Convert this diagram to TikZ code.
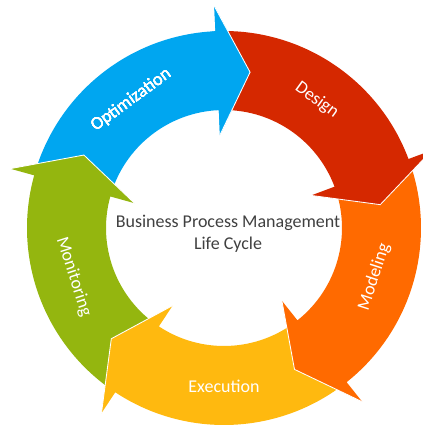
\documentclass[tikz,border=0pt]{standalone}
\usepackage{fontspec}
\setmainfont{Carlito}
\usepackage{tikz}
\usetikzlibrary{positioning}
\definecolor{optblue}{RGB}{0,166,240}
\definecolor{desred}{RGB}{213,40,0}
\definecolor{modorange}{RGB}{255,106,0}
\definecolor{exeyellow}{RGB}{255,185,15}
\definecolor{mongreen}{RGB}{148,182,15}
\definecolor{titlegray}{RGB}{64,64,64}
% radii of band and arrow head
\newcommand{\rout}{4.925}
\newcommand{\rin}{2.95}
\newcommand{\rhout}{5.55}
\newcommand{\rhin}{2.325}
\newcommand{\rtip}{3.95}
% #1 colour, #2 start angle, #3 head base angle
\newcommand{\cyclearrow}[3]{%
    \fill[#1] (#2:\rout) arc[start angle=#2, end angle=#3, radius=\rout]
        -- (#3:\rhout) -- ({#3-12}:\rtip) -- (#3:\rhin) -- (#3:\rin)
        arc[start angle=#3, end angle=#2, radius=\rin] -- cycle;}
\newcommand{\cyclehead}[2]{%
    \fill[#1] ({#2+1}:\rout) -- (#2:\rout) -- (#2:\rhout) -- ({#2-12}:\rtip)
        -- (#2:\rhin) -- (#2:\rin) -- ({#2+1}:\rin) -- cycle;}
\newcommand{\headedge}[1]{%
    \draw[white, line width=0.6pt, line join=miter] (#1:\rhout) -- ({#1-12}:\rtip) -- (#1:\rhin);}

\begin{document}
\begin{tikzpicture}[
    phase/.style={text=white, font=\fontsize{12.8}{15}\selectfont},
    title/.style={text=titlegray, align=center, font=\fontsize{12.8}{15.6}\selectfont}
    ]
    \clip (-5.6,-4.975) rectangle (4.975,5.7);
    % Arrows
    \cyclearrow{optblue}{164.5}{92.5}
    \cyclearrow{mongreen}{-123.5}{-195.5}
    \cyclearrow{exeyellow}{-51.5}{-123.5}
    \cyclearrow{modorange}{20.5}{-51.5}
    \cyclearrow{desred}{92.5}{20.5}
    \cyclehead{optblue}{92.5}
    % Separators
    \foreach \b in {92.5, 20.5, -51.5, -123.5, 164.5}
        \headedge{\b}
    % Labels
    \node[phase, rotate=36]  (optim) at (126:3.95) {Optimization};
    \node[phase, rotate=-36] (design) at (54:3.95) {Design};
    \node[phase, rotate=72]  (model) at (-18:3.95) {Modeling};
    \node[phase]             (exec) at (-90:3.95) {Execution};
    \node[phase, rotate=-72] (monit) at (-162:3.95) {Monitoring};
    \node[title] (bpm) at (0.1,-0.15) {Business Process Management\\Life Cycle};
\end{tikzpicture}
\end{document}
